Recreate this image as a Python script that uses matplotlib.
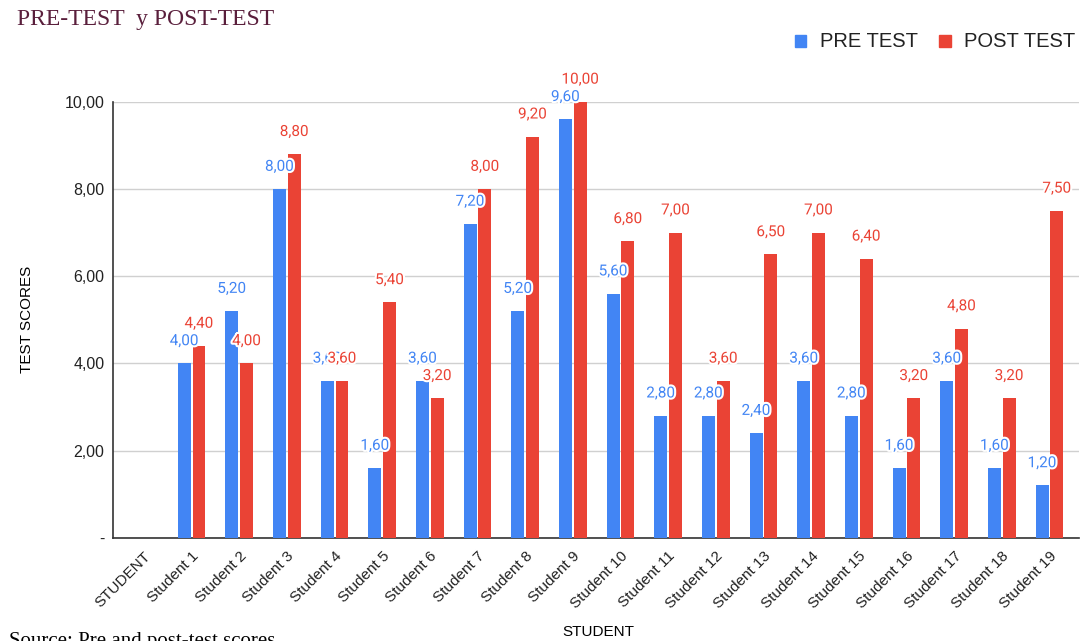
import matplotlib.pyplot as plt
import matplotlib.patheffects as pe
import matplotlib.transforms as mtransforms
import numpy as np

categories = ["STUDENT"] + [f"Student {i}" for i in range(1, 20)]
pre_test = [None, 4.0, 5.2, 8.0, 3.6, 1.6, 3.6, 7.2, 5.2, 9.6, 5.6, 2.8, 2.8, 2.4, 3.6, 2.8, 1.6, 3.6, 1.6, 1.2]
post_test = [None, 4.4, 4.0, 8.8, 3.6, 5.4, 3.2, 8.0, 9.2, 10.0, 6.8, 7.0, 3.6, 6.5, 7.0, 6.4, 3.2, 4.8, 3.2, 7.5]
y_ticks = [0, 2, 4, 6, 8, 10]

BLUE = "#4285F4"
RED = "#EA4335"


def fmt(v):
    return f"{v:.2f}".replace(".", ",")


fig = plt.figure(figsize=(10.86, 6.41), dpi=100)
ax = fig.add_axes([0.104, 0.161, 0.890, 0.680])

x = np.arange(len(categories))
w = 0.27
gap = 0.04
stroke = [pe.withStroke(linewidth=3, foreground="white")]

for i in range(len(categories)):
    for val, off, col in ((pre_test[i], -(w + gap) / 2, BLUE), (post_test[i], (w + gap) / 2, RED)):
        if val is None:
            continue
        ax.bar(x[i] + off, val, width=w, color=col, zorder=3)
        ax.annotate(fmt(val), (x[i] + off, val), xytext=(0, 11), textcoords="offset points",
                    ha="center", va="bottom", color=col, fontsize=11, family="Roboto",
                    path_effects=stroke, annotation_clip=False, zorder=4)

ax.set_xlim(-0.65, 19.63)
ax.set_ylim(0, 10)
ax.set_yticks(y_ticks)
ax.set_yticklabels(["-"] + [fmt(v) for v in y_ticks[1:]], family="Liberation Sans", fontsize=11.5, color="#222222")
ax.set_xticks(x)
ax.set_xticklabels(categories, rotation=45, ha="right", rotation_mode="anchor",
                   family="Liberation Sans", fontsize=11, color="#222222")
shift = mtransforms.ScaledTranslation(7 / 100, 0, fig.dpi_scale_trans)
for lbl in ax.get_xticklabels():
    lbl.set_transform(lbl.get_transform() + shift)
ax.tick_params(axis="x", length=0, pad=8)
ax.tick_params(axis="y", length=0, pad=6)
ax.grid(axis="y", color="#d0d0d0", linewidth=1, zorder=0)
for s in ("top", "right"):
    ax.spines[s].set_visible(False)
for s in ("left", "bottom"):
    ax.spines[s].set_color("#333333")
    ax.spines[s].set_linewidth(1.2)

ax.set_ylabel("TEST SCORES", family="Liberation Sans", fontsize=11, labelpad=22)
fig.text(0.551, 0.003, "STUDENT", family="Liberation Sans", fontsize=11, ha="center", va="bottom")

fig.text(0.016, 0.953, "PRE-TEST  y POST-TEST", family="Liberation Serif", fontsize=17,
         color="#5a1f3c", va="bottom")
fig.text(0.008, -0.016, "Source: Pre and post-test scores", family="Liberation Serif",
         fontsize=15, va="bottom")

# legend drawn as squares + text at the top right
for xs, label, col in ((0.732, "PRE TEST", BLUE), (0.865, "POST TEST", RED)):
    fig.patches.append(plt.Rectangle((xs, 0.926), 0.0105, 0.019, transform=fig.transFigure,
                                     color=col, figure=fig))
    fig.text(xs + 0.023, 0.936, label, family="Liberation Sans", fontsize=14.5,
             color="#222222", va="center")

fig.savefig("out.png", dpi=100)
